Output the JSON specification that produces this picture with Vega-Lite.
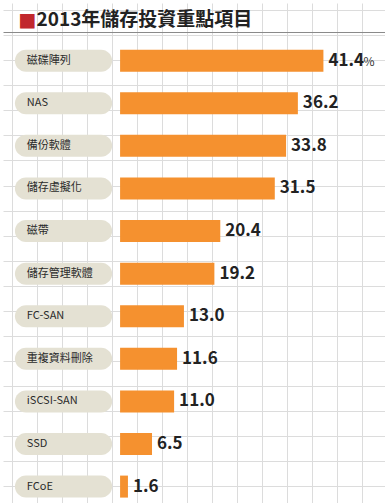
{
  "$schema": "https://vega.github.io/schema/vega-lite/v6.json",
  "width": 385,
  "height": 503,
  "autosize": {"type": "fit", "contains": "padding"},
  "padding": 0,
  "background": "#ffffff",
  "config": {"view": {"stroke": null}},
  "data": {
    "values": [
      {"item": "磁碟陣列", "value": 41.4},
      {"item": "NAS", "value": 36.2},
      {"item": "備份軟體", "value": 33.8},
      {"item": "儲存虛擬化", "value": 31.5},
      {"item": "磁帶", "value": 20.4},
      {"item": "儲存管理軟體", "value": 19.2},
      {"item": "FC-SAN", "value": 13.0},
      {"item": "重複資料刪除", "value": 11.6},
      {"item": "iSCSI-SAN", "value": 11.0},
      {"item": "SSD", "value": 6.5},
      {"item": "FCoE", "value": 1.6}
    ]
  },
  "resolve": {"scale": {"x": "independent", "y": "independent"}, "axis": {"x": "independent", "y": "independent"}},
  "layer": [
    {
      "data": {"values": [{"g": 0}]},
      "mark": {"type": "point", "opacity": 0},
      "encoding": {
        "x": {
          "field": "g", "type": "quantitative",
          "scale": {"domain": [0, 385], "nice": false, "zero": false},
          "axis": {
            "orient": "top",
            "values": [9.3, 34.5, 59.7, 84.9, 110.1, 135.3, 160.5, 185.7, 210.9, 236.1, 261.3, 286.5, 311.7, 336.9, 362.1],
            "grid": true, "gridColor": "#dcdcdc", "gridWidth": 1,
            "labels": false, "ticks": false, "domain": false,
            "title": "■",
            "titleFont": "DejaVu Sans", "titleFontSize": 19, "titleFontWeight": "normal",
            "titleColor": "#c1272d",
            "titleAlign": "left", "titleBaseline": "alphabetic", "titleAngle": 0,
            "titleX": 15, "titleY": 22
          }
        },
        "y": {
          "field": "g", "type": "quantitative",
          "scale": {"domain": [0, 503], "nice": false, "zero": false, "reverse": true},
          "axis": {
            "values": [7.2, 29.3, 32.4, 57.6, 82.8, 108, 133.2, 158.4, 183.6, 208.8, 234, 259.2, 284.4, 309.6, 334.8, 360, 385.2, 410.4, 435.6, 460.8, 486],
            "grid": true,
            "gridColor": {"condition": {"test": "datum.value == 29.3", "value": "#8a8a8a"}, "value": "#dcdcdc"},
            "gridWidth": 1,
            "labels": false, "ticks": false, "domain": false,
            "title": "2013年儲存投資重點項目",
            "titleFont": "Noto Sans CJK TC", "titleFontSize": 19, "titleFontWeight": "bold",
            "titleColor": "#222222",
            "titleAlign": "left", "titleBaseline": "alphabetic", "titleAngle": 0,
            "titleX": 33, "titleY": 22
          }
        }
      }
    },
    {
      "layer": [
        {
          "mark": {"type": "bar", "color": "#e4e1d3", "cornerRadius": 11, "height": 22},
          "encoding": {
            "x": {"datum": -21.41, "type": "quantitative"},
            "x2": {"datum": -1.62}
          }
        },
        {
          "mark": {"type": "bar", "color": "#f5912f", "height": 22},
          "encoding": {
            "x": {"field": "value", "type": "quantitative"},
            "x2": {"datum": 0}
          }
        },
        {
          "mark": {"type": "text", "align": "left", "baseline": "middle", "font": "Noto Sans CJK TC", "fontSize": 11, "color": "#2b2b2b"},
          "encoding": {
            "x": {"datum": -18.99, "type": "quantitative"},
            "text": {"field": "item"}
          }
        },
        {
          "mark": {"type": "text", "align": "left", "baseline": "middle", "dx": 5, "font": "Noto Sans CJK TC", "fontSize": 17, "fontWeight": "bold", "color": "#222222"},
          "encoding": {
            "x": {"field": "value", "type": "quantitative"},
            "text": {"field": "value", "format": ".1f"}
          }
        },
        {
          "transform": [{"filter": "datum.item == '磁碟陣列'"}],
          "mark": {"type": "text", "align": "left", "baseline": "middle", "dx": 40, "dy": 1, "font": "Noto Sans CJK TC", "fontSize": 12, "fontWeight": "normal", "color": "#333333"},
          "encoding": {
            "x": {"field": "value", "type": "quantitative"},
            "text": {"value": "%"}
          }
        }
      ],
      "encoding": {
        "y": {
          "field": "item", "type": "nominal", "sort": null,
          "scale": {"paddingInner": 0.487, "paddingOuter": 0.613, "align": 0.895},
          "axis": null
        },
        "x": {
          "type": "quantitative",
          "scale": {"domain": [-23.84, 53.94], "nice": false, "zero": false},
          "axis": null
        }
      }
    }
  ]
}
